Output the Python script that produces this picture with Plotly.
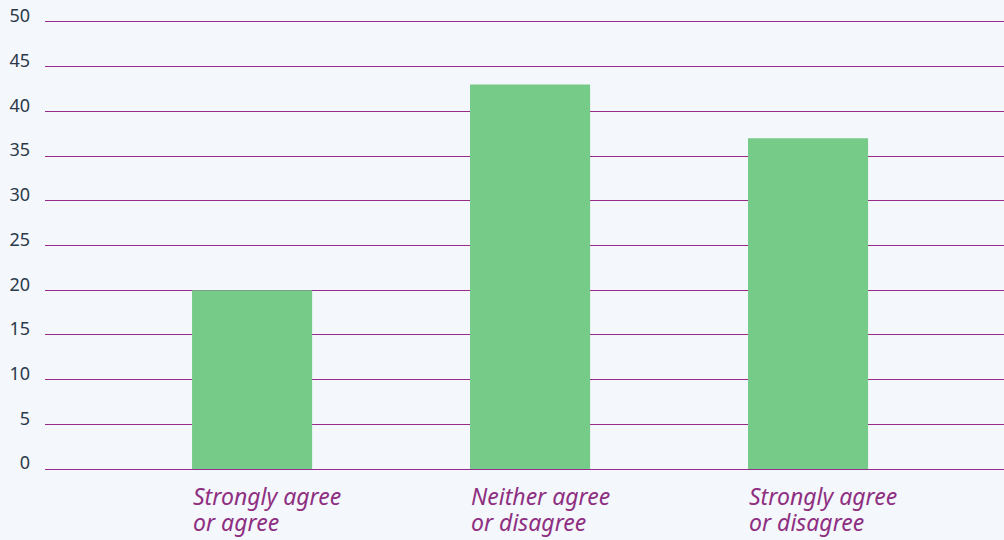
import plotly.graph_objects as go

categories = ["Strongly agree<br>or agree", "Neither agree<br>or disagree", "Strongly agree<br>or disagree"]
values = [20, 43, 37]
y_ticks = [0, 5, 10, 15, 20, 25, 30, 35, 40, 45, 50]

BG = "#F4F7FB"
GRID = "#972B8C"
TEXT_PURPLE = "#8E2F82"
GREEN = "#76CB88"

xpos = list(range(len(categories)))

fig = go.Figure()
fig.add_trace(go.Bar(x=xpos, y=values, marker=dict(color=GREEN, line=dict(width=0)),
                     width=0.432, hoverinfo="skip"))

for i, c in enumerate(categories):
    for j, line in enumerate(c.split("<br>")):
        fig.add_annotation(x=xpos[i], y=0, xref="x", yref="y", text=line, showarrow=False,
                           xanchor="left", yanchor="middle", align="left",
                           xshift=-61, yshift=-(27 + 26 * j),
                           font=dict(family="Noto Sans", size=23, color=TEXT_PURPLE, style="italic"))

fig.update_layout(
    width=1004, height=540,
    paper_bgcolor=BG, plot_bgcolor=BG,
    margin=dict(l=45, r=0, t=22, b=71),
    showlegend=False,
    xaxis=dict(range=[-0.745, 2.705], showticklabels=False, showgrid=False, zeroline=False,
               showline=True, mirror=True, linecolor=GRID, linewidth=1.3, ticks=""),
    yaxis=dict(range=[0, 50], tickvals=y_ticks, ticktext=[str(v) for v in y_ticks],
               showgrid=True, gridcolor=GRID, gridwidth=1.3, zeroline=False, showline=False,
               ticks="", ticklabelstandoff=14, ticklabelshift=-6,
               tickfont=dict(family="Noto Sans", size=18, color="#2B3A4A")),
)

fig.write_html("out.html", config={"displayModeBar": False},
               post_script="document.body.style.margin='0';")
